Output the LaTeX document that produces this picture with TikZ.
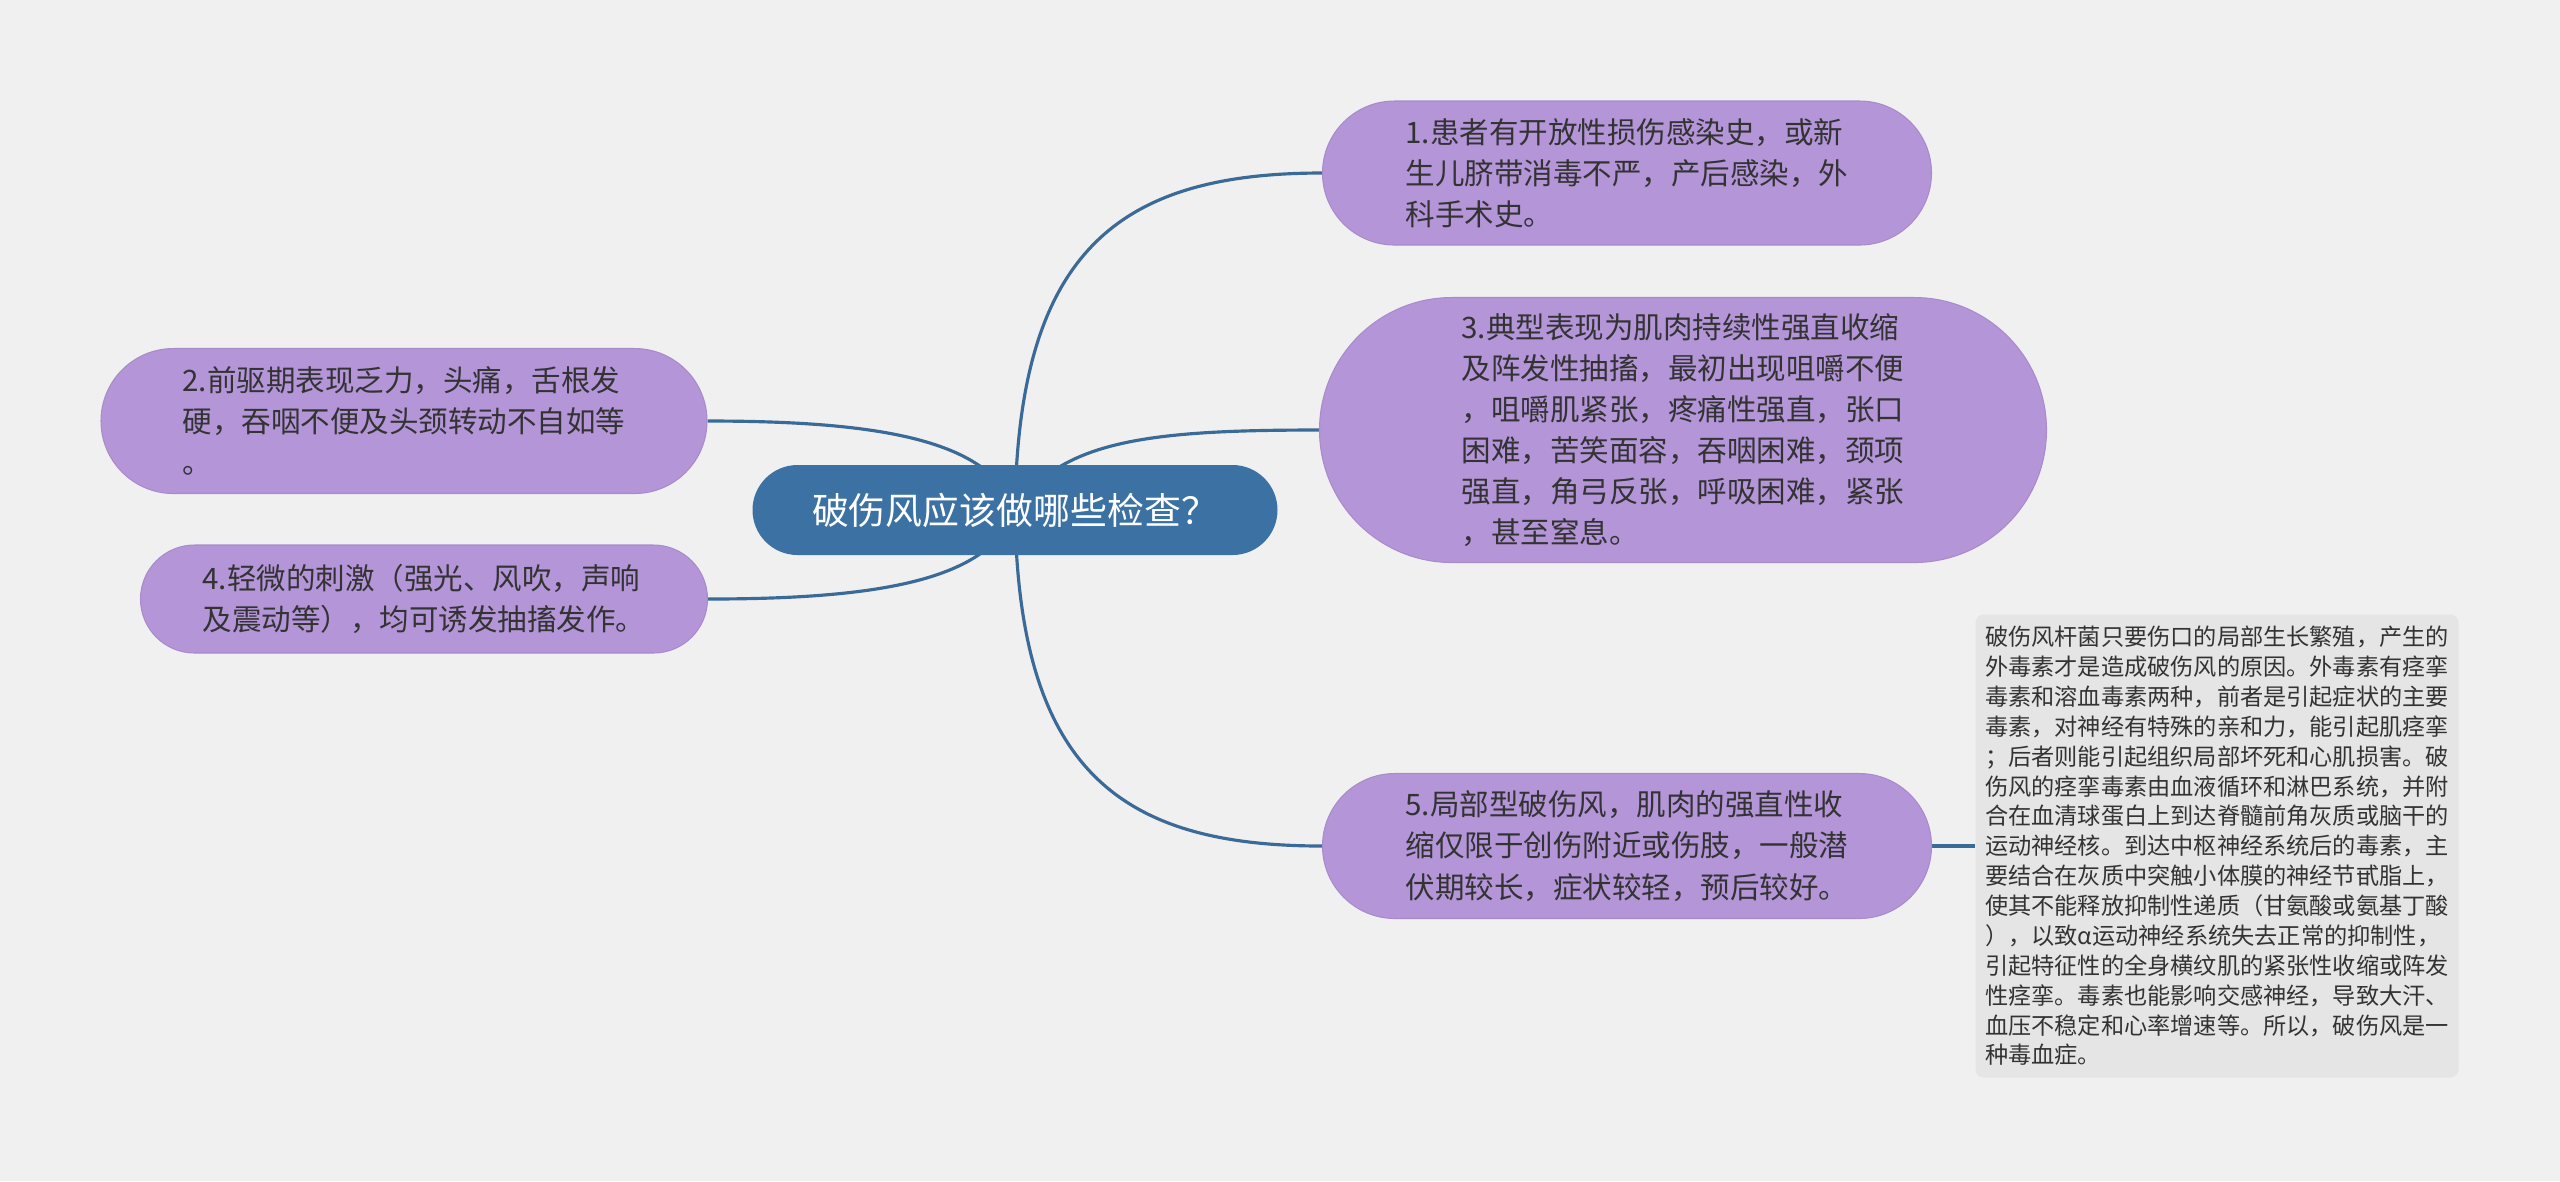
\documentclass[tikz,border=0pt]{standalone}
\usepackage{fontspec}
\usepackage{tikz}
\usetikzlibrary{backgrounds}
\newfontfamily\cjk{Noto Sans CJK SC}
\definecolor{ShutuBack}{HTML}{F0F0F0}
\definecolor{ShutuRoot}{HTML}{3B71A3}
\definecolor{ShutuLine}{HTML}{3A6A98}
\definecolor{ShutuLeaf}{HTML}{B395D8}
\definecolor{ShutuLeafEdge}{HTML}{A98BCD}
\definecolor{ShutuNote}{HTML}{E5E5E5}
\definecolor{ShutuText}{HTML}{333333}
\begin{document}
\begin{tikzpicture}[x=0.1mm,y=-0.1mm,
    root/.style={fill=ShutuRoot,text=white,inner sep=0pt,font=\cjk\fontsize{10.5}{13}\selectfont},
    leaf/.style={fill=ShutuLeaf,draw=ShutuLeafEdge,line width=0.3pt,text=ShutuText,inner sep=0pt,align=left,font=\cjk\fontsize{8.4}{11.7}\selectfont},
    note/.style={fill=ShutuNote,text=ShutuText,inner sep=0pt,align=left,rounded corners=0.8mm,font=\cjk\fontsize{6.6}{8.5}\selectfont},
    link/.style={ShutuLine,line width=0.9pt}]
      \node[root,minimum width=52.5mm,minimum height=9mm,rounded corners=4.5mm] (root) at (1015,510) {破伤风应该做哪些检查？};
      \node[leaf,minimum width=60.9mm,minimum height=14.4mm,rounded corners=7.2mm] (cause) at (1627,173)
        {1.患者有开放性损伤感染史，或新\\生儿脐带消毒不严，产后感染，外\\科手术史。};
      \node[leaf,minimum width=72.7mm,minimum height=26.5mm,rounded corners=13.25mm] (typical) at (1683,430)
        {3.典型表现为肌肉持续性强直收缩\\及阵发性抽搐，最初出现咀嚼不便\\，咀嚼肌紧张，疼痛性强直，张口\\困难，苦笑面容，吞咽困难，颈项\\强直，角弓反张，呼吸困难，紧张\\，甚至窒息。};
      \node[leaf,minimum width=60.6mm,minimum height=14.5mm,rounded corners=7.25mm] (prodrome) at (404,421)
        {2.前驱期表现乏力，头痛，舌根发\\硬，吞咽不便及头颈转动不自如等\\。};
      \node[leaf,minimum width=56.7mm,minimum height=10.8mm,rounded corners=5.4mm] (trigger) at (424,599)
        {4.轻微的刺激（强光、风吹，声响\\及震动等），均可诱发抽搐发作。};
      \node[leaf,minimum width=60.9mm,minimum height=14.5mm,rounded corners=7.25mm] (local) at (1627,846)
        {5.局部型破伤风，肌肉的强直性收\\缩仅限于创伤附近或伤肢，一般潜\\伏期较长，症状较轻，预后较好。};
      \node[note,minimum width=48.3mm,minimum height=46.3mm] (toxin) at (2217,846)
        {破伤风杆菌只要伤口的局部生长繁殖，产生的\\外毒素才是造成破伤风的原因。外毒素有痉挛\\毒素和溶血毒素两种，前者是引起症状的主要\\毒素，对神经有特殊的亲和力，能引起肌痉挛\\；后者则能引起组织局部坏死和心肌损害。破\\伤风的痉挛毒素由血液循环和淋巴系统，并附\\合在血清球蛋白上到达脊髓前角灰质或脑干的\\运动神经核。到达中枢神经系统后的毒素，主\\要结合在灰质中突触小体膜的神经节甙脂上，\\使其不能释放抑制性递质（甘氨酸或氨基丁酸\\），以致α运动神经系统失去正常的抑制性，\\引起特征性的全身横纹肌的紧张性收缩或阵发\\性痉挛。毒素也能影响交感神经，导致大汗、\\血压不稳定和心率增速等。所以，破伤风是一\\种毒血症。};
      \begin{pgfonlayer}{background}
        \fill[ShutuBack] (0,0) rectangle (2560,1181);
        \draw[link] (root.center) .. controls (1018,250) and (1120,173) .. (cause.west);
        \draw[link] (root.center) .. controls (1060,440) and (1150,430) .. (typical.west);
        \draw[link] (root.center) .. controls (990,440) and (880,421) .. (prodrome.east);
        \draw[link] (root.center) .. controls (990,580) and (880,599) .. (trigger.east);
        \draw[link] (root.center) .. controls (1018,770) and (1120,846) .. (local.west);
        \draw[link] (local.east) -- (toxin.west);
      \end{pgfonlayer}
    \end{tikzpicture}
\end{document}
